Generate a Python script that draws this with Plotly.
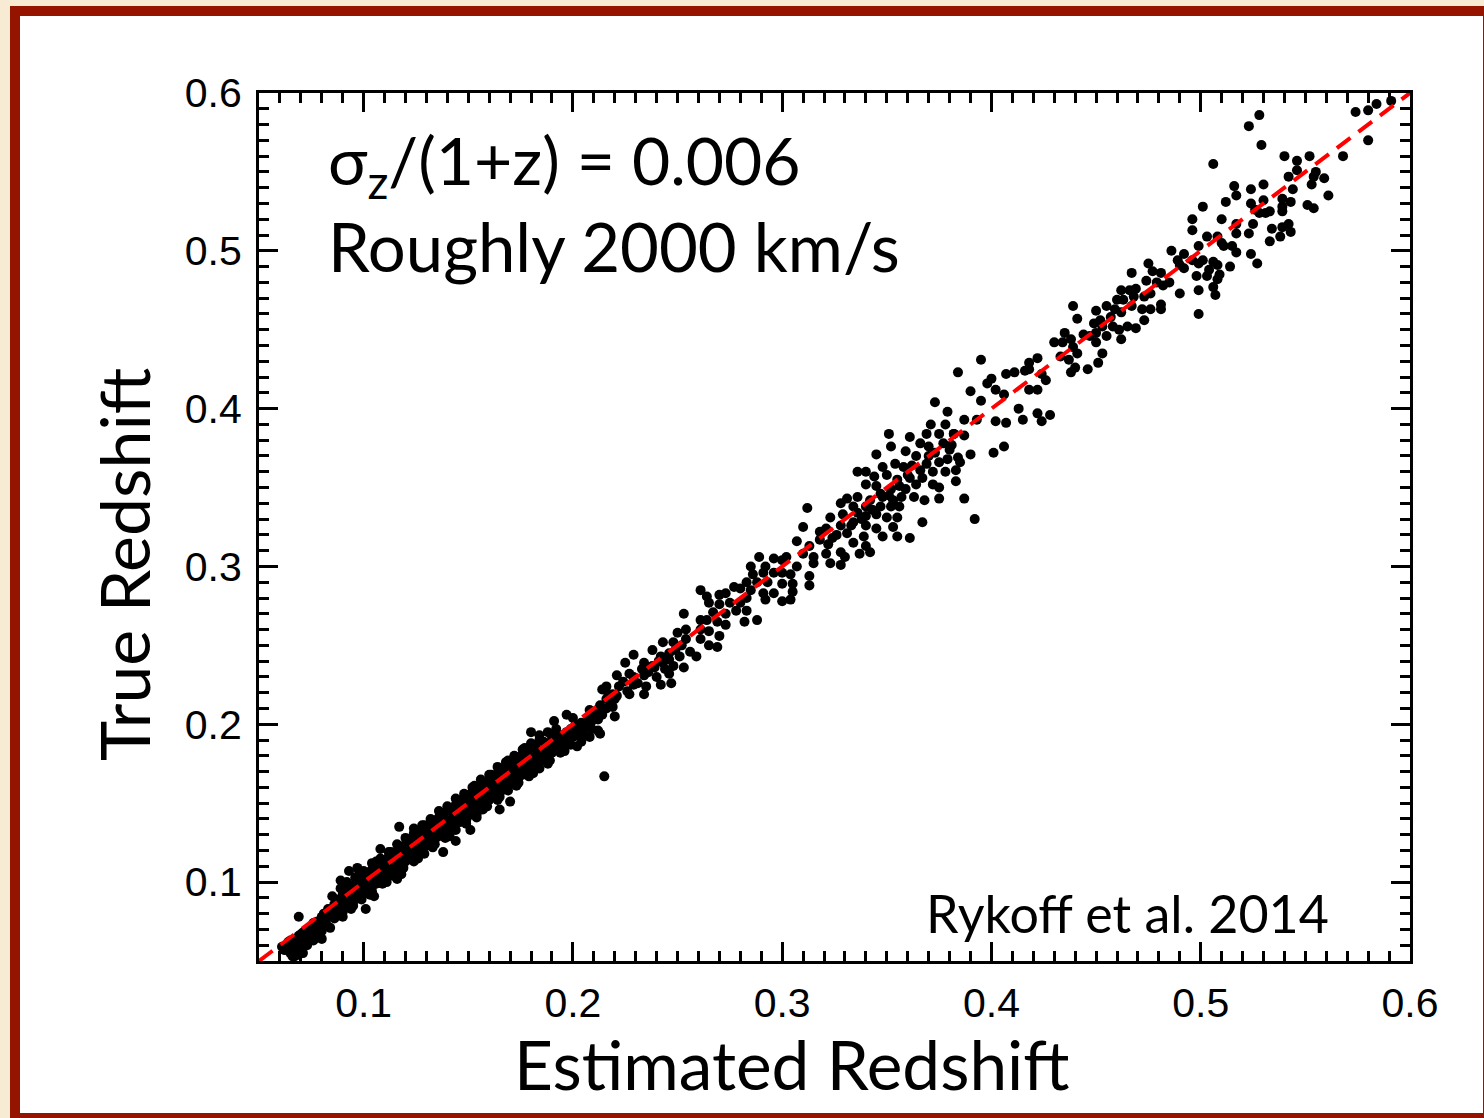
import plotly.graph_objects as go

# ---------------- data ----------------
band_pts = [
    (0.062,0.057),(0.064,0.062),(0.065,0.055),(0.066,0.060),(0.067,0.053),(0.068,0.064),(0.069,0.058),(0.070,0.062),
    (0.070,0.067),(0.071,0.055),(0.072,0.065),(0.073,0.060),(0.073,0.070),(0.074,0.066),(0.075,0.072),(0.076,0.063),
    (0.077,0.069),(0.077,0.074),(0.078,0.066),(0.079,0.072),(0.080,0.076),(0.080,0.069),
    (0.081,0.080),(0.082,0.074),(0.083,0.078),(0.083,0.083),(0.084,0.071),(0.085,0.081),(0.086,0.077),(0.086,0.086),
    (0.087,0.083),(0.088,0.079),(0.088,0.089),(0.089,0.085),(0.090,0.081),(0.090,0.092),(0.091,0.088),(0.092,0.084),
    (0.092,0.095),(0.093,0.090),(0.094,0.087),(0.094,0.097),(0.095,0.093),(0.096,0.089),(0.096,0.099),(0.097,0.095),
    (0.098,0.091),(0.098,0.101),(0.099,0.097),(0.100,0.093),(0.100,0.103),(0.101,0.099),
    (0.102,0.095),(0.102,0.106),(0.103,0.101),(0.104,0.097),(0.104,0.108),(0.105,0.103),(0.106,0.099),(0.106,0.110),
    (0.107,0.105),(0.108,0.101),(0.108,0.112),(0.109,0.107),(0.110,0.103),(0.110,0.114),(0.111,0.109),(0.112,0.105),
    (0.112,0.116),(0.113,0.111),(0.114,0.107),(0.114,0.118),(0.115,0.113),(0.116,0.109),(0.116,0.120),(0.117,0.115),
    (0.118,0.111),(0.118,0.122),(0.119,0.117),(0.120,0.113),(0.120,0.124),(0.121,0.119),
    (0.122,0.115),(0.122,0.126),(0.123,0.121),(0.124,0.117),(0.124,0.128),(0.125,0.123),(0.126,0.119),(0.126,0.130),
    (0.127,0.125),(0.128,0.121),(0.128,0.133),(0.129,0.127),(0.130,0.123),(0.130,0.135),(0.131,0.129),(0.132,0.125),
    (0.132,0.137),(0.133,0.131),(0.134,0.127),(0.134,0.139),(0.135,0.133),(0.136,0.129),(0.136,0.141),(0.137,0.135),
    (0.138,0.131),(0.138,0.143),(0.139,0.137),(0.140,0.133),(0.140,0.145),(0.141,0.139),
    (0.142,0.135),(0.142,0.147),(0.143,0.141),(0.144,0.137),(0.144,0.149),(0.145,0.143),(0.146,0.138),(0.146,0.151),
    (0.147,0.145),(0.148,0.140),(0.148,0.153),(0.149,0.147),(0.150,0.142),(0.150,0.155),(0.151,0.149),(0.152,0.144),
    (0.152,0.157),(0.153,0.151),(0.154,0.146),(0.154,0.159),(0.155,0.153),(0.156,0.148),(0.156,0.161),(0.157,0.155),
    (0.158,0.150),(0.158,0.163),(0.159,0.157),(0.160,0.152),(0.160,0.165),(0.161,0.159),
    (0.162,0.154),(0.162,0.167),(0.163,0.161),(0.164,0.156),(0.164,0.169),(0.165,0.163),(0.166,0.158),(0.166,0.171),
    (0.167,0.165),(0.168,0.160),(0.168,0.173),(0.169,0.167),(0.170,0.162),(0.170,0.175),(0.171,0.169),(0.172,0.164),
    (0.172,0.177),(0.173,0.171),(0.174,0.166),(0.174,0.179),(0.175,0.173),(0.176,0.168),(0.176,0.181),(0.177,0.175),
    (0.178,0.170),(0.178,0.183),(0.179,0.177),(0.180,0.172),(0.180,0.185),(0.181,0.179),
    (0.182,0.174),(0.182,0.187),(0.183,0.181),(0.184,0.176),(0.185,0.183),(0.186,0.178),(0.186,0.189),(0.187,0.185),
    (0.188,0.180),(0.189,0.187),(0.190,0.182),(0.190,0.192),(0.191,0.189),(0.192,0.184),(0.193,0.191),(0.194,0.186),
    (0.195,0.193),(0.196,0.188),(0.197,0.195),(0.198,0.190),(0.199,0.197),(0.200,0.192),(0.201,0.199),(0.202,0.194),
    (0.204,0.201),(0.205,0.196),(0.207,0.203),(0.208,0.198),(0.210,0.206),(0.212,0.203),
]

band_fill_pts = [
    (0.066,0.063),(0.069,0.066),(0.072,0.069),(0.075,0.068),(0.078,0.075),(0.081,0.077),(0.084,0.080),(0.087,0.086),
    (0.089,0.088),(0.091,0.091),(0.093,0.087),(0.095,0.096),(0.097,0.092),(0.099,0.100),(0.101,0.096),(0.103,0.104),
    (0.105,0.100),(0.107,0.108),(0.109,0.104),(0.111,0.112),(0.113,0.108),(0.115,0.116),(0.117,0.112),(0.119,0.120),
    (0.121,0.116),(0.123,0.124),(0.125,0.120),(0.127,0.128),(0.129,0.124),(0.131,0.132),(0.133,0.128),(0.135,0.136),
    (0.137,0.132),(0.139,0.140),(0.141,0.136),(0.143,0.144),(0.145,0.140),(0.147,0.148),(0.149,0.144),(0.151,0.152),
    (0.153,0.148),(0.155,0.156),(0.157,0.152),(0.159,0.160),(0.161,0.156),(0.163,0.164),(0.165,0.160),(0.167,0.168),
    (0.169,0.164),(0.171,0.172),(0.173,0.168),(0.175,0.176),(0.177,0.172),(0.179,0.180),(0.181,0.176),(0.183,0.184),
    (0.185,0.180),(0.187,0.188),(0.189,0.184),(0.191,0.193),(0.193,0.188),(0.195,0.190),(0.197,0.191),(0.199,0.194),
    (0.201,0.195),(0.203,0.198),(0.206,0.200),(0.209,0.202),(0.211,0.208),(0.214,0.206),(0.216,0.210),(0.218,0.213),
    (0.220,0.216),
]

band_edge_pts = [
    (0.085,0.091),(0.090,0.078),(0.095,0.085),(0.098,0.105),(0.103,0.092),(0.106,0.113),(0.111,0.100),(0.113,0.119),
    (0.118,0.107),(0.121,0.127),(0.126,0.115),(0.129,0.136),(0.133,0.122),(0.137,0.144),(0.141,0.130),(0.145,0.152),
    (0.149,0.137),(0.153,0.161),(0.157,0.146),(0.161,0.168),(0.165,0.154),(0.169,0.177),(0.173,0.161),(0.177,0.185),
    (0.181,0.169),(0.184,0.190),(0.188,0.175),(0.192,0.197),(0.196,0.183),(0.200,0.204),(0.204,0.189),(0.208,0.209),
    (0.212,0.196),(0.216,0.216),
]

band_extra_pts = [
    (0.092,0.100),(0.096,0.103),(0.100,0.107),(0.104,0.112),(0.108,0.115),(0.112,0.119),(0.116,0.124),(0.120,0.128),
    (0.124,0.131),(0.128,0.136),(0.132,0.140),(0.136,0.145),(0.140,0.148),(0.144,0.153),(0.148,0.156),(0.152,0.160),
    (0.156,0.165),(0.160,0.168),(0.164,0.173),(0.168,0.176),(0.172,0.180),(0.176,0.184),(0.180,0.188),(0.184,0.193),
    (0.188,0.195),(0.094,0.083),(0.099,0.089),(0.104,0.094),(0.109,0.099),(0.114,0.104),(0.119,0.109),(0.124,0.113),
    (0.129,0.118),(0.134,0.124),(0.139,0.128),(0.144,0.133),(0.149,0.139),(0.154,0.143),(0.159,0.148),(0.164,0.152),
    (0.169,0.158),(0.174,0.163),(0.179,0.167),(0.184,0.172),(0.189,0.177),(0.194,0.182),(0.199,0.187),(0.204,0.192),
    (0.209,0.197),(0.213,0.212),(0.217,0.219),(0.221,0.218),(0.224,0.227),(0.226,0.221),(0.229,0.230),(0.231,0.226),
    (0.233,0.235),(0.236,0.233),(0.239,0.236),(0.241,0.240),(0.244,0.235),(0.246,0.241),(0.249,0.247),(0.251,0.243),
    (0.252,0.250),(0.318,0.322),(0.322,0.314),(0.326,0.320),(0.333,0.326),(0.338,0.330),(0.343,0.336),(0.347,0.346),
    (0.351,0.345),(0.357,0.344),(0.360,0.358),(0.362,0.364),(0.367,0.356),(0.369,0.365),(0.373,0.372),
]

low_scatter_pts = [
    (0.117,0.135),(0.124,0.134),(0.108,0.121),(0.093,0.107),(0.097,0.109),(0.089,0.101),(0.089,0.096),(0.069,0.078),
    (0.105,0.091),(0.101,0.083),(0.118,0.105),(0.116,0.102),(0.138,0.119),(0.141,0.129),(0.144,0.126),(0.151,0.133),
    (0.154,0.141),(0.165,0.146),(0.170,0.151),(0.180,0.195),(0.191,0.202),(0.197,0.206),(0.215,0.167),(0.213,0.194),
    (0.208,0.192),(0.202,0.186),(0.211,0.206),(0.220,0.205),(0.219,0.211),(0.063,0.057),(0.066,0.053),(0.069,0.054),
    (0.068,0.059),(0.061,0.059),(0.065,0.063),(0.072,0.062),(0.071,0.068),(0.074,0.065),(0.077,0.070),(0.079,0.068),
    (0.076,0.074),(0.080,0.078),(0.080,0.064),
]

mid_pts = [
    (0.373,0.404),(0.379,0.398),(0.378,0.390),(0.371,0.390),(0.369,0.384),(0.375,0.384),(0.382,0.384),(0.351,0.384),
    (0.361,0.382),(0.352,0.376),(0.366,0.378),(0.370,0.376),(0.377,0.378),(0.380,0.374),(0.345,0.371),(0.359,0.373),
    (0.364,0.370),(0.370,0.370),(0.375,0.366),(0.379,0.368),(0.384,0.369),(0.354,0.365),(0.348,0.363),(0.358,0.363),
    (0.366,0.361),(0.372,0.360),(0.378,0.360),(0.383,0.361),(0.336,0.360),(0.340,0.360),(0.344,0.357),(0.350,0.358),
    (0.355,0.355),(0.361,0.356),(0.364,0.352),(0.372,0.352),(0.375,0.350),(0.383,0.354),(0.340,0.352),(0.345,0.351),
    (0.352,0.349),(0.356,0.351),(0.359,0.349),(0.331,0.343),(0.336,0.344),(0.342,0.342),(0.348,0.344),(0.353,0.342),
    (0.363,0.344),(0.368,0.342),(0.375,0.343),(0.387,0.343),(0.328,0.340),(0.334,0.338),(0.340,0.338),(0.347,0.338),
    (0.352,0.338),(0.356,0.338),(0.312,0.337),(0.323,0.331),(0.329,0.333),(0.336,0.334),(0.340,0.332),(0.345,0.333),
    (0.350,0.331),(0.355,0.331),(0.310,0.325),(0.321,0.324),(0.328,0.326),(0.334,0.328),(0.340,0.326),(0.345,0.324),
    (0.353,0.325),(0.367,0.328),(0.392,0.330),(0.307,0.316),(0.313,0.313),(0.318,0.317),(0.324,0.318),(0.331,0.321),
    (0.334,0.315),(0.339,0.319),(0.348,0.319),(0.355,0.319),(0.361,0.318),(0.302,0.306),(0.310,0.308),(0.315,0.306),
    (0.321,0.308),(0.328,0.309),(0.330,0.306),(0.337,0.308),(0.340,0.313),(0.342,0.309),(0.315,0.302),(0.323,0.302),
    (0.328,0.301),(0.289,0.306),(0.296,0.305),(0.300,0.304),(0.285,0.300),(0.292,0.300),(0.307,0.300),(0.286,0.295),
    (0.291,0.296),(0.296,0.296),(0.300,0.296),(0.304,0.295),(0.313,0.294),(0.313,0.288),(0.283,0.290),(0.288,0.290),
    (0.293,0.290),(0.300,0.289),(0.305,0.289),(0.305,0.284),(0.280,0.286),(0.285,0.285),(0.291,0.283),(0.296,0.283),
    (0.261,0.285),(0.264,0.281),(0.270,0.282),(0.277,0.287),(0.273,0.283),(0.283,0.280),(0.292,0.279),(0.300,0.278),
    (0.304,0.279),(0.265,0.277),(0.270,0.276),(0.275,0.277),(0.280,0.277),(0.267,0.271),(0.273,0.270),(0.278,0.272),
    (0.283,0.272),(0.253,0.270),(0.282,0.265),(0.288,0.266),(0.261,0.266),(0.264,0.266),(0.269,0.265),(0.273,0.263),
    (0.254,0.260),(0.261,0.260),(0.265,0.259),(0.270,0.256),(0.250,0.258),(0.243,0.252),(0.248,0.252),(0.254,0.254),
    (0.261,0.254),(0.265,0.250),(0.269,0.249),(0.256,0.246),(0.259,0.243),(0.253,0.236),(0.229,0.244),(0.238,0.247),
    (0.242,0.243),(0.246,0.245),(0.225,0.239),(0.234,0.239),(0.238,0.237),(0.243,0.239),(0.248,0.237),(0.221,0.231),
    (0.227,0.232),(0.234,0.231),(0.240,0.230),(0.246,0.232),(0.247,0.226),(0.242,0.225),(0.216,0.224),(0.222,0.224),
    (0.229,0.225),(0.235,0.224),(0.219,0.219),(0.227,0.219),(0.234,0.219),(0.214,0.222),
]

high_pts = [
    (0.591,0.595),(0.584,0.593),(0.580,0.589),(0.574,0.588),(0.580,0.570),(0.568,0.560),(0.528,0.586),(0.523,0.579),
    (0.529,0.567),(0.506,0.555),(0.540,0.560),(0.546,0.557),(0.546,0.551),(0.552,0.560),(0.555,0.550),(0.554,0.547),
    (0.559,0.546),(0.553,0.542),(0.561,0.535),(0.542,0.547),(0.544,0.539),(0.543,0.531),(0.551,0.529),(0.554,0.527),
    (0.530,0.542),(0.524,0.539),(0.516,0.541),(0.517,0.535),(0.512,0.531),(0.501,0.528),(0.510,0.520),(0.496,0.520),
    (0.496,0.513),(0.503,0.509),(0.508,0.509),(0.517,0.517),(0.517,0.511),(0.523,0.511),(0.525,0.517),(0.524,0.530),
    (0.530,0.532),(0.528,0.524),(0.531,0.524),(0.533,0.525),(0.526,0.526),(0.534,0.514),(0.539,0.533),(0.539,0.528),
    (0.539,0.525),(0.539,0.515),(0.542,0.517),(0.543,0.512),(0.538,0.509),(0.533,0.506),(0.515,0.503),(0.517,0.499),
    (0.524,0.498),(0.527,0.492),(0.514,0.490),(0.511,0.503),(0.510,0.505),(0.486,0.500),(0.492,0.498),(0.489,0.494),
    (0.499,0.503),(0.496,0.494),(0.501,0.494),(0.506,0.493),(0.499,0.492),(0.504,0.488),(0.508,0.491),(0.498,0.484),
    (0.503,0.484),(0.508,0.482),(0.509,0.485),(0.492,0.489),(0.499,0.475),(0.506,0.477),(0.507,0.472),(0.499,0.460),
    (0.490,0.491),(0.475,0.492),(0.477,0.487),(0.481,0.486),(0.467,0.486),(0.474,0.481),(0.479,0.480),(0.482,0.478),
    (0.485,0.480),(0.490,0.473),(0.462,0.475),(0.466,0.475),(0.469,0.476),(0.468,0.471),(0.473,0.471),(0.476,0.473),
    (0.463,0.469),(0.467,0.465),(0.472,0.463),(0.476,0.463),(0.481,0.463),(0.481,0.466),(0.473,0.456),(0.469,0.451),
    (0.465,0.452),(0.460,0.469),(0.459,0.463),(0.462,0.461),(0.455,0.465),(0.457,0.458),(0.450,0.462),(0.452,0.456),
    (0.449,0.454),(0.453,0.452),(0.458,0.452),(0.461,0.450),(0.462,0.444),(0.455,0.446),(0.450,0.448),(0.447,0.446),
    (0.444,0.447),(0.450,0.442),(0.453,0.435),(0.451,0.429),(0.439,0.465),(0.441,0.457),(0.435,0.448),(0.438,0.444),
    (0.434,0.442),(0.439,0.439),(0.433,0.433),(0.437,0.431),(0.441,0.435),(0.438,0.423),(0.440,0.426),(0.446,0.425),
    (0.430,0.442),(0.422,0.432),(0.424,0.422),(0.426,0.418),(0.418,0.425),(0.418,0.429),(0.416,0.424),(0.411,0.423),
    (0.407,0.422),(0.400,0.419),(0.402,0.412),(0.398,0.416),(0.406,0.409),(0.413,0.400),(0.418,0.412),(0.422,0.412),
    (0.428,0.396),(0.422,0.397),(0.424,0.392),(0.415,0.393),(0.407,0.391),(0.402,0.392),(0.395,0.405),(0.395,0.431),
    (0.384,0.423),(0.390,0.411),(0.387,0.393),(0.393,0.393),(0.382,0.384),(0.387,0.383),(0.381,0.377),(0.390,0.371),
    (0.401,0.372),(0.406,0.376),(0.385,0.366),
]

one_to_one = [0.05, 0.6]
tick_vals = [0.1, 0.2, 0.3, 0.4, 0.5, 0.6]
tick_text = ["0.1", "0.2", "0.3", "0.4", "0.5", "0.6"]

all_pts = (band_pts + band_fill_pts + band_edge_pts + band_extra_pts
           + low_scatter_pts + mid_pts + high_pts)
est_z = [p[0] for p in all_pts]
true_z = [p[1] for p in all_pts]

# ---------------- layout geometry ----------------
W, H = 1484, 1118
L, R, T, B = 259, 74, 93, 157
PW, PH = W - L - R, H - T - B


def px_x(px):
    return (px - L) / PW


def px_y(py):
    return (H - B - py) / PH


TEXT_FONT = "Lato, Open Sans, sans-serif"
TICK_FONT = "Liberation Sans, Arial, sans-serif"

fig = go.Figure()
fig.add_trace(go.Scatter(
    x=est_z, y=true_z, mode="markers",
    marker=dict(symbol="circle", size=10, color="black", line=dict(width=0)),
    hoverinfo="skip", showlegend=False,
))
fig.add_trace(go.Scatter(
    x=one_to_one, y=one_to_one, mode="lines",
    line=dict(color="#ff0000", width=4, dash="17px,10px"),
    hoverinfo="skip", showlegend=False,
))

axis_common = dict(
    range=[0.05, 0.6], tickvals=tick_vals, ticktext=tick_text,
    ticks="inside", ticklen=19, tickwidth=2.5, tickcolor="black",
    showline=True, linewidth=3, linecolor="black", mirror="allticks",
    showgrid=False, zeroline=False,
    tickfont=dict(family=TICK_FONT, size=41, color="black"),
    minor=dict(dtick=0.01, tick0=0, ticks="inside", ticklen=10, tickwidth=2.5,
               tickcolor="black", showgrid=False),
)

fig.update_layout(
    width=W, height=H,
    margin=dict(l=L, r=R, t=T, b=B, autoexpand=False),
    paper_bgcolor="#f7ebd3", plot_bgcolor="white",
    xaxis=dict(**axis_common, ticklabelstandoff=4),
    yaxis=dict(**axis_common, ticklabelstandoff=6),
    hovermode=False,
    shapes=[dict(type="rect", xref="paper", yref="paper", layer="below",
                 x0=px_x(15), x1=px_x(1488), y0=px_y(1118), y1=px_y(11),
                 line=dict(color="#951400", width=10), fillcolor="white")],
    annotations=[
        dict(text="Estimated Redshift", xref="paper", yref="paper",
             x=px_x(791), y=px_y(1063), xanchor="center", yanchor="middle",
             showarrow=False, font=dict(family=TEXT_FONT, size=67.5, color="black")),
        dict(text="True Redshift", xref="paper", yref="paper", textangle=-90,
             x=px_x(123), y=px_y(565), xanchor="center", yanchor="middle",
             showarrow=False, font=dict(family=TEXT_FONT, size=68, color="black")),
        dict(text="σ<sub>z</sub>/(1+z) = 0.006", xref="paper", yref="paper",
             x=px_x(326), y=px_y(164), xanchor="left", yanchor="middle",
             showarrow=False, font=dict(family=TEXT_FONT, size=66, color="black")),
        dict(text="Roughly 2000 km/s", xref="paper", yref="paper",
             x=px_x(326), y=px_y(246), xanchor="left", yanchor="middle",
             showarrow=False, font=dict(family=TEXT_FONT, size=67, color="black")),
        dict(text="Rykoff et al. 2014", xref="paper", yref="paper",
             x=px_x(924), y=px_y(913), xanchor="left", yanchor="middle",
             showarrow=False, font=dict(family=TEXT_FONT, size=52, color="black")),
    ],
)

fig.write_html("out.html", config={"displayModeBar": False})
